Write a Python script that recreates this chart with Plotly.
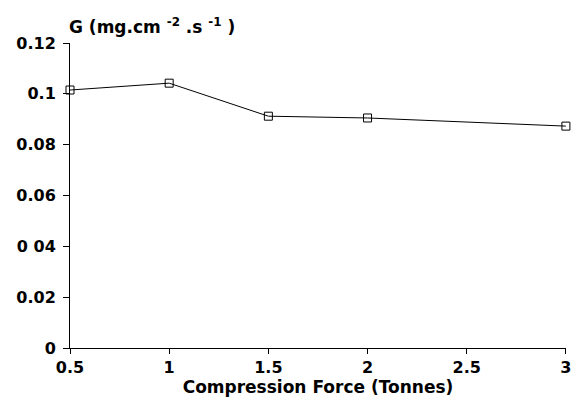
import plotly.graph_objects as go

force = [0.5, 1.0, 1.5, 2.0, 3.0]
g_values = [0.1015, 0.1042, 0.0912, 0.0905, 0.0873]
x_ticks = [0.5, 1, 1.5, 2, 2.5, 3]
x_tick_labels = ["0.5", "1", "1.5", "2", "2.5", "3"]
y_ticks = [0, 0.02, 0.04, 0.06, 0.08, 0.1, 0.12]
y_tick_labels = ["0", "0.02", "0 04", "0.06", "0.08", "0.1", "0.12"]

font_family = "DejaVu Sans, sans-serif"

fig = go.Figure()
fig.add_trace(go.Scatter(
    x=force, y=g_values, mode="lines+markers",
    line=dict(color="black", width=1),
    marker=dict(symbol="square-open", size=8, color="black", line=dict(width=1)),
    cliponaxis=False,
    showlegend=False,
))

fig.update_layout(
    width=571, height=398,
    margin=dict(l=59, r=8, t=35, b=58),
    paper_bgcolor="white", plot_bgcolor="white",
    font=dict(family=font_family, color="black"),
    xaxis=dict(
        range=[0.5, 3.0005], tickvals=x_ticks, ticktext=x_tick_labels,
        showline=True, linecolor="black", linewidth=1,
        ticks="outside", ticklen=5, tickcolor="black",
        showgrid=False, zeroline=False,
        tickfont=dict(size=16, family=font_family, weight="bold"),
        title=dict(text="Compression Force (Tonnes)", standoff=0,
                   font=dict(size=17, family=font_family, weight="bold")),
    ),
    yaxis=dict(
        range=[0, 0.12], tickvals=y_ticks, ticktext=y_tick_labels,
        showline=True, linecolor="black", linewidth=1,
        ticks="outside", ticklen=6, tickcolor="black",
        ticklabelstandoff=4,
        showgrid=False, zeroline=False,
        tickfont=dict(size=16, family=font_family, weight="bold"),
    ),
    annotations=[dict(
        text="G (mg.cm <sup>-2</sup> .s <sup>-1</sup> )",
        xref="paper", yref="paper", x=0, y=1, xanchor="left", yanchor="bottom",
        xshift=-3, yshift=4, showarrow=False,
        font=dict(size=17, family=font_family, weight="bold"),
    )],
)

fig.write_html("out.html")
